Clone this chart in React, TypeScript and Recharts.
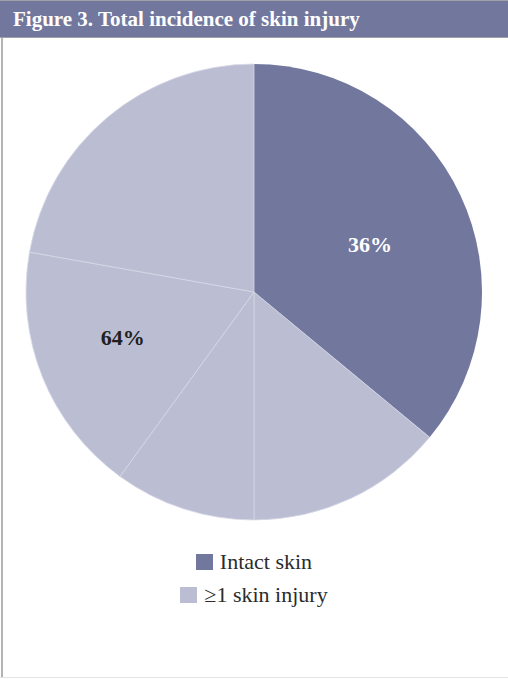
import { PieChart, Pie, Cell, Legend } from "recharts";

// main groups, as labelled in the figure
const groups = ["Intact skin", "≥1 skin injury"];
const groupColors = ["#72779e", "#bbbdd3"];
const groupLabels = ["36%", "64%"];

// the pie is drawn from 5 sectors: intact skin + the faint sub-slices of the injury part
const sliceGroup = [0, 1, 1, 1, 1];
const sliceValues = [36, 14, 10, 17.8, 22.2];

const data = sliceValues.map((value, i) => ({
  name: `${groups[sliceGroup[i]]} ${i}`,
  value,
  group: sliceGroup[i],
}));

const total = sliceValues.reduce((a, b) => a + b, 0);
const RADIAN = Math.PI / 180;

// label placement tweaks per group: radius factor, angle shift (deg, clockwise)
const labelRadius = [0.55, 0.61];
const labelShift = [3, 6];

// mid angle (recharts convention, start 90 going clockwise) of a whole group
function groupMidAngle(g: number) {
  let acc = 0;
  let start = -1;
  let end = 0;
  sliceValues.forEach((v, i) => {
    if (sliceGroup[i] === g) {
      if (start < 0) start = acc;
      end = acc + v;
    }
    acc += v;
  });
  const mid = (start + end) / 2 / total;
  return 90 - mid * 360;
}

function renderLabel(props: any) {
  const { cx, cy, outerRadius, index } = props;
  const g = sliceGroup[index];
  // only the first slice of each group carries the label
  if (sliceGroup.indexOf(g) !== index) return null;
  const angle = groupMidAngle(g) - labelShift[g];
  const r = outerRadius * labelRadius[g];
  const x = cx + r * Math.cos(-angle * RADIAN);
  const y = cy + r * Math.sin(-angle * RADIAN);
  return (
    <text
      x={x}
      y={y}
      textAnchor="middle"
      dominantBaseline="central"
      fill={g === 0 ? "#ffffff" : "#231f20"}
      fontFamily="'Liberation Serif', serif"
      fontWeight="bold"
      fontSize={22}
    >
      {groupLabels[g]}
    </text>
  );
}

function LegendContent() {
  return (
    <div style={{ display: "flex", flexDirection: "column", alignItems: "center" }}>
      {groups.map((g, i) => (
        <div
          key={g}
          style={{
            display: "flex",
            alignItems: "center",
            height: 33,
            fontFamily: "'Liberation Serif', serif",
            fontSize: 22,
            color: "#2b2b2b",
          }}
        >
          <span
            style={{
              display: "inline-block",
              width: 17,
              height: 16,
              background: groupColors[i],
              marginRight: 7,
            }}
          />
          {g}
        </div>
      ))}
    </div>
  );
}

export default function App() {
  return (
    <div
      style={{
        position: "absolute",
        left: 0,
        top: 0,
        width: 508,
        height: 679,
        background: "#ffffff",
        overflow: "hidden",
      }}
    >
      <div
        style={{
          position: "absolute",
          left: 0,
          top: 0,
          width: 508,
          height: 38,
          background: "#72779e",
          borderTop: "1px solid #a0a0a8",
          borderBottom: "1px solid #a0a0a8",
          color: "#ffffff",
          fontFamily: "'Liberation Serif', serif",
          fontWeight: "bold",
          fontSize: 21,
          lineHeight: "36px",
          paddingLeft: 13,
          boxSizing: "border-box",
        }}
      >
        Figure 3. Total incidence of skin injury
      </div>
      <div
        style={{
          position: "absolute",
          left: 1,
          top: 38,
          width: 2,
          height: 640,
          background: "#b4b4b4",
        }}
      />
      <div
        style={{
          position: "absolute",
          left: 0,
          top: 677,
          width: 508,
          height: 1,
          background: "#e4e4e4",
        }}
      />
      <div style={{ position: "absolute", left: 0, top: 0 }}>
        <PieChart width={508} height={679} margin={{ top: 0, right: 0, bottom: 0, left: 0 }}>
          <Pie
            data={data}
            dataKey="value"
            nameKey="name"
            cx={254}
            cy={292}
            outerRadius={228}
            startAngle={90}
            endAngle={-270}
            label={renderLabel}
            labelLine={false}
            isAnimationActive={false}
          >
            {data.map((d, i) => (
              <Cell
                key={i}
                fill={groupColors[d.group]}
                stroke={d.group === 0 ? "none" : "#d6d8e6"}
                strokeWidth={d.group === 0 ? 0 : 0.8}
              />
            ))}
          </Pie>
          <Legend
            content={<LegendContent />}
            wrapperStyle={{ position: "absolute", top: 545, left: 0, width: 508 }}
          />
        </PieChart>
      </div>
    </div>
  );
}
